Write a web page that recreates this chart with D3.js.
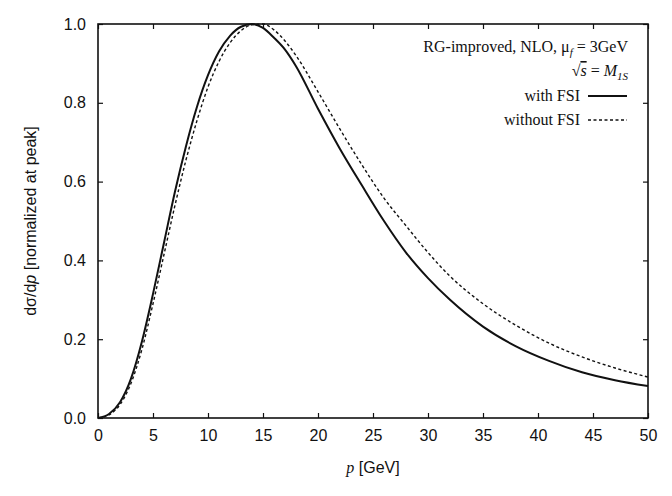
<!DOCTYPE html>
<html>
<head>
<meta charset="utf-8">
<script src="https://cdn.jsdelivr.net/npm/d3@7"></script>
<style>
  body { margin: 0; background: #fff; }
  .tick text { font-family: "Liberation Sans", Arial, sans-serif; font-size: 16px; fill: #111; }
  .serif { font-family: "Liberation Serif", "Times New Roman", serif; font-size: 16px; fill: #111; }
</style>
</head>
<body>
<svg id="drawing_region"></svg>
<script>
// momentum p [GeV]
const pValues = [0,1,2,3,4,5,6,7,8,9,10,11,12,13,14,15,16,17,18,20,22,24,26,28,30,32,35,38,41,44,47,50];
// with FSI (solid)
const withFSI = [0,0.01,0.04,0.10,0.195,0.315,0.445,0.575,0.69,0.79,0.87,0.93,0.97,0.993,1.0,0.99,0.965,0.935,0.893,0.785,0.683,0.59,0.50,0.42,0.355,0.30,0.232,0.182,0.145,0.116,0.096,0.081];
// without FSI (dashed)
const withoutFSI = [0,0.008,0.034,0.088,0.175,0.29,0.415,0.54,0.655,0.755,0.84,0.905,0.952,0.983,0.998,1.0,0.985,0.957,0.92,0.828,0.733,0.642,0.558,0.488,0.42,0.36,0.29,0.235,0.19,0.155,0.127,0.104];

const xTicks = [0,5,10,15,20,25,30,35,40,45,50];
const yTicks = [0,0.2,0.4,0.6,0.8,1.0];

const config = {
    width: 672,
    height: 496,
    margin: {top:24, right:24, bottom:78, left:98}
};

const svg = d3.select('#drawing_region')
    .attr('width', config.width)
    .attr('height', config.height);

const inner_width = config.width - config.margin.left - config.margin.right;
const inner_height = config.height - config.margin.top - config.margin.bottom;

const chart = svg.append('g')
    .attr('transform', `translate(${config.margin.left}, ${config.margin.top})`);

const xscale = d3.scaleLinear().domain([0, 50]).range([0, inner_width]);
const yscale = d3.scaleLinear().domain([0, 1]).range([inner_height, 0]);

// axes, ticks pointing inward
const xaxis = d3.axisBottom(xscale).tickValues(xTicks).tickSize(-5).tickPadding(12).tickFormat(d3.format('d'));
const yaxis = d3.axisLeft(yscale).tickValues(yTicks).tickSize(-5).tickPadding(12).tickFormat(d3.format('.1f'));

chart.append('g')
    .attr('transform', `translate(0, ${inner_height})`)
    .call(xaxis)
    .call(g => g.select('.domain').remove());
chart.append('g')
    .call(yaxis)
    .call(g => g.select('.domain').remove());

// mirrored ticks on top and right
chart.append('g')
    .call(d3.axisTop(xscale).tickValues(xTicks).tickSize(-5).tickFormat(''))
    .call(g => g.select('.domain').remove());
chart.append('g')
    .attr('transform', `translate(${inner_width}, 0)`)
    .call(d3.axisRight(yscale).tickValues(yTicks).tickSize(-5).tickFormat(''))
    .call(g => g.select('.domain').remove());

chart.selectAll('.tick line').attr('stroke', '#111').attr('stroke-width', 1.2);

// frame
chart.append('rect')
    .attr('width', inner_width)
    .attr('height', inner_height)
    .attr('fill', 'none')
    .attr('stroke', '#111')
    .attr('stroke-width', 1.6);

const line = (vals) => d3.line()
    .x((d, i) => xscale(pValues[i]))
    .y(d => yscale(d))
    .curve(d3.curveMonotoneX)(vals);

chart.append('path')
    .attr('d', line(withoutFSI))
    .attr('fill', 'none')
    .attr('stroke', '#111')
    .attr('stroke-width', 1.4)
    .attr('stroke-dasharray', '3,2.5');

chart.append('path')
    .attr('d', line(withFSI))
    .attr('fill', 'none')
    .attr('stroke', '#111')
    .attr('stroke-width', 2);

// legend
const lx = 628;
const l1 = svg.append('text').attr('class', 'serif').attr('x', lx).attr('y', 52).attr('text-anchor', 'end');
l1.append('tspan').text('RG-improved, NLO, μ');
l1.append('tspan').attr('font-style', 'italic').attr('font-size', '11px').attr('dy', 4).text('f');
l1.append('tspan').attr('dy', -4).text(' = 3GeV');

const l2 = svg.append('text').attr('class', 'serif').attr('x', lx).attr('y', 76).attr('text-anchor', 'end');
l2.append('tspan').text('√');
l2.append('tspan').attr('font-style', 'italic').attr('text-decoration', 'overline').text('s');
l2.append('tspan').text(' = ');
l2.append('tspan').attr('font-style', 'italic').text('M');
l2.append('tspan').attr('font-style', 'italic').attr('font-size', '11px').attr('dy', 4).text('1S');

svg.append('text').attr('class', 'serif').attr('x', 580).attr('y', 101).attr('text-anchor', 'end').text('with FSI');
svg.append('line').attr('x1', 588).attr('x2', 627).attr('y1', 96).attr('y2', 96)
    .attr('stroke', '#111').attr('stroke-width', 2);
svg.append('text').attr('class', 'serif').attr('x', 580).attr('y', 125).attr('text-anchor', 'end').text('without FSI');
svg.append('line').attr('x1', 588).attr('x2', 627).attr('y1', 120).attr('y2', 120)
    .attr('stroke', '#111').attr('stroke-width', 1.4).attr('stroke-dasharray', '3,2.5');

// axis labels
const xl = svg.append('text')
    .attr('x', config.margin.left + inner_width / 2)
    .attr('y', 473)
    .attr('text-anchor', 'middle')
    .attr('font-family', '"Liberation Sans", Arial, sans-serif')
    .attr('font-size', '16px')
    .attr('fill', '#111');
xl.append('tspan').attr('font-family', '"Liberation Serif", serif').attr('font-style', 'italic').text('p');
xl.append('tspan').text(' [GeV]');

const yl = svg.append('text')
    .attr('transform', `translate(36, ${config.margin.top + inner_height / 2}) rotate(-90)`)
    .attr('text-anchor', 'middle')
    .attr('font-family', '"Liberation Sans", Arial, sans-serif')
    .attr('font-size', '16px')
    .attr('fill', '#111');
yl.append('tspan').text('dσ/d');
yl.append('tspan').attr('font-style', 'italic').text('p');
yl.append('tspan').text(' [normalized at peak]');
</script>
</body>
</html>
